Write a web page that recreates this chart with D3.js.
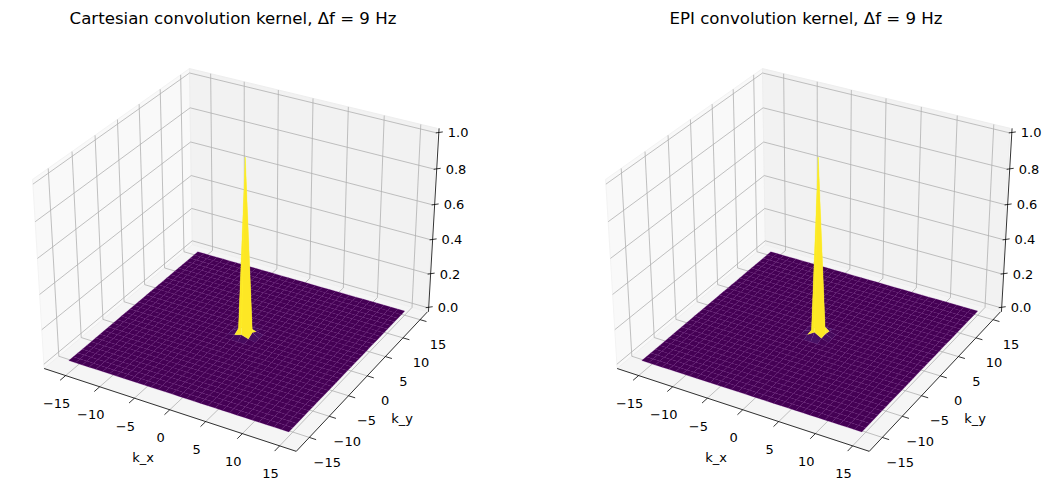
<!DOCTYPE html>
<html><head><meta charset="utf-8">
<script src="https://cdn.jsdelivr.net/npm/d3@7"></script>
<style>body{margin:0;background:#fff}svg{display:block;font-family:"DejaVu Sans",sans-serif}</style>
</head><body><svg id="c" width="1058" height="493"></svg>
<script>
// ---- data ----
const titles = ["Cartesian convolution kernel, \u0394f = 9 Hz", "EPI convolution kernel, \u0394f = 9 Hz"];
const kValues = d3.range(-16, 16);            // k grid (-16 .. 15)
const xTicks = [-15, -10, -5, 0, 5, 10, 15];
const yTicks = [-15, -10, -5, 0, 5, 10, 15];
const zTicks = [0, 0.2, 0.4, 0.6, 0.8, 1.0];
const zTickLabels = ["0.0", "0.2", "0.4", "0.6", "0.8", "1.0"];
// nonzero kernel entries near the centre: [kx, ky, value]; all others 0
const cartesianPeak = [[0,0,1.0],[1,0,0.025],[-1,0,0.025],[0,1,0.02],[0,-1,0.02],[1,1,0.008],[-1,1,0.008],[1,-1,0.008],[-1,-1,0.008]];
const epiPeak = [[0,0,1.0],[1,0,0.015],[-1,0,0.015],[0,1,0.04],[0,-1,0.035],[1,1,0.01],[-1,1,0.01],[1,-1,0.012],[-1,-1,0.01]];

function buildGrid(peak){
  const Z = kValues.map(() => kValues.map(() => 0));
  peak.forEach(([kx,ky,v]) => { Z[ky+16][kx+16] = v; });
  return Z;
}
const datasets = [buildGrid(cartesianPeak), buildGrid(epiPeak)];

// ---- 3D projection (view elev=30, azim=-60) ----
const xlim = [-18.2, 17.2], ylim = [-18.2, 17.2], zlim = [-0.025, 1.025];
const sxW = d3.scaleLinear().domain(xlim).range([0,4]);
const syW = d3.scaleLinear().domain(ylim).range([0,4]);
const szW = d3.scaleLinear().domain(zlim).range([0,3]);
const el = 30*Math.PI/180, az = -60*Math.PI/180, dist = 28;
const Rc = [2,2,1.5];
const eye = [Rc[0]+dist*Math.cos(el)*Math.cos(az), Rc[1]+dist*Math.cos(el)*Math.sin(az), Rc[2]+dist*Math.sin(el)];
const sub=(a,b)=>a.map((d,i)=>d-b[i]), dot=(a,b)=>a[0]*b[0]+a[1]*b[1]+a[2]*b[2];
const cross=(a,b)=>[a[1]*b[2]-a[2]*b[1],a[2]*b[0]-a[0]*b[2],a[0]*b[1]-a[1]*b[0]];
const norm=a=>{const l=Math.hypot(...a);return a.map(d=>d/l);};
const wv = norm(sub(eye,Rc)), uv = norm(cross([0,0,1],wv)), vv = cross(wv,uv);
function rawProj(x,y,z){
  const p=[sxW(x),syW(y),szW(z)], r=sub(p,eye);
  const zc=dot(r,wv);
  return [dot(r,uv)/(-zc), dot(r,vv)/(-zc), -zc];
}
// fit an affine screen mapping to reference box corners (left panel)
const anchors = [
  [[xlim[0],ylim[0],zlim[0]],[43,367]],
  [[xlim[1],ylim[1],zlim[0]],[430,312]],
  [[xlim[1],ylim[0],zlim[0]],[295,452]],
  [[xlim[0],ylim[1],zlim[1]],[188,68]],
  [[xlim[0],ylim[0],zlim[1]],[35,181]],
  [[xlim[1],ylim[1],zlim[1]],[436,128]]
];
function solve3(M,b){
  const A=M.map((r,i)=>[...r,b[i]]);
  for(let i=0;i<3;i++){let p=i;for(let k=i+1;k<3;k++)if(Math.abs(A[k][i])>Math.abs(A[p][i]))p=k;[A[i],A[p]]=[A[p],A[i]];
    for(let k=0;k<3;k++)if(k!==i){const f=A[k][i]/A[i][i];for(let j=i;j<4;j++)A[k][j]-=f*A[i][j];}}
  return A.map((r,i)=>r[3]/r[i]);
}
function fitAffine(F, t){
  const M=[[0,0,0],[0,0,0],[0,0,0]], b=[0,0,0];
  F.forEach((f,k)=>{for(let i=0;i<3;i++){b[i]+=f[i]*t[k];for(let j=0;j<3;j++)M[i][j]+=f[i]*f[j];}});
  return solve3(M,b);
}
const F = anchors.map(a=>{const r=rawProj(...a[0]);return [r[0],r[1],1];});
const cX = fitAffine(F, anchors.map(a=>a[1][0]));
const cY = fitAffine(F, anchors.map(a=>a[1][1]));
function P(x,y,z,off){ const r=rawProj(x,y,z); return [off+cX[0]*r[0]+cX[1]*r[1]+cX[2], cY[0]*r[0]+cY[1]*r[1]+cY[2], r[2]]; }

const svg = d3.select("#c");
const viridis = d3.interpolateViridis;
const panelOffsets = [0, 573];
const gridColor = "#b0b0b0";

panelOffsets.forEach((off, pi) => {
  const g = svg.append("g");
  const pr = (x,y,z)=>P(x,y,z,off);
  const path = pts => "M"+pts.map(p=>p[0].toFixed(2)+","+p[1].toFixed(2)).join("L")+"Z";
  const line = (a,b,col,w)=>{ g.append("line").attr("x1",a[0]).attr("y1",a[1]).attr("x2",b[0]).attr("y2",b[1]).attr("stroke",col).attr("stroke-width",w); };
  const [x0,x1]=xlim,[y0,y1]=ylim,[z0,z1]=zlim;
  // panes
  g.append("path").attr("d",path([pr(x0,y0,z0),pr(x0,y1,z0),pr(x0,y1,z1),pr(x0,y0,z1)])).attr("fill","#f9f9f9").attr("stroke","#f3f3f3");
  g.append("path").attr("d",path([pr(x0,y1,z0),pr(x1,y1,z0),pr(x1,y1,z1),pr(x0,y1,z1)])).attr("fill","#f2f2f2").attr("stroke","#eeeeee");
  g.append("path").attr("d",path([pr(x0,y0,z0),pr(x1,y0,z0),pr(x1,y1,z0),pr(x0,y1,z0)])).attr("fill","#f5f5f5").attr("stroke","#f0f0f0");
  // grid
  xTicks.forEach(t=>{ line(pr(t,y0,z0),pr(t,y1,z0),gridColor,0.8); line(pr(t,y1,z0),pr(t,y1,z1),gridColor,0.8); });
  yTicks.forEach(t=>{ line(pr(x0,t,z0),pr(x1,t,z0),gridColor,0.8); line(pr(x0,t,z0),pr(x0,t,z1),gridColor,0.8); });
  zTicks.forEach(t=>{ line(pr(x0,y0,t),pr(x0,y1,t),gridColor,0.8); line(pr(x0,y1,t),pr(x1,y1,t),gridColor,0.8); });
  // surface
  const Z = datasets[pi];
  const quads = [];
  for(let j=0;j<kValues.length-1;j++) for(let i=0;i<kValues.length-1;i++){
    const c=[[i,j],[i+1,j],[i+1,j+1],[i,j+1]];
    const pts=c.map(([a,b])=>pr(kValues[a],kValues[b],Z[b][a]));
    const avg=d3.mean(c,([a,b])=>Z[b][a]);
    quads.push({pts,avg,depth:d3.mean(pts,p=>p[2])});
  }
  const cs = d3.scaleLinear().domain(d3.extent(quads,q=>q.avg)).range([0,1]);
  quads.sort((a,b)=>b.depth-a.depth);
  g.append("g").selectAll("path").data(quads).join("path")
    .attr("d",q=>path(q.pts)).attr("fill",q=>viridis(cs(q.avg)))
    .attr("stroke",q=>d3.color(viridis(cs(q.avg))).brighter(0.9)).attr("stroke-width",0.35).attr("stroke-opacity",0.55);
  // axis lines
  line(pr(x0,y0,z0),pr(x1,y0,z0),"#000",0.8);
  line(pr(x1,y0,z0),pr(x1,y1,z0),"#000",0.8);
  const za=pr(x1,y1,z0), zb=pr(x1,y1,z1);
  const zx0=za[0]+1, zx1=zb[0]+2;
  line([zx0,za[1]],[zx1,zb[1]],"#000",0.8);
  const txt=(p,s,anchor,fs)=>g.append("text").attr("x",p[0]).attr("y",p[1]).attr("text-anchor",anchor||"middle").attr("dominant-baseline","central").attr("font-size",fs||13).attr("fill","#000").text(s);
  xTicks.forEach(t=>{ const a=pr(t,y0,z0), b=pr(t,y0-1.2,z0); line(a,b,"#000",0.8); txt([a[0]-9,a[1]+28], String(t).replace("-","\u2212")); });
  yTicks.forEach(t=>{ const a=pr(x1,t,z0), b=pr(x1+0.9,t,z0); line(a,b,"#000",0.8); txt([a[0]+18,a[1]+25], String(t).replace("-","\u2212")); });
  zTicks.forEach((t,i)=>{ const p=pr(x1,y1,t); const f=(p[1]-za[1])/(zb[1]-za[1]); const xx=zx0+f*(zx1-zx0); line([xx-3,p[1]],[xx+4,p[1]-1],"#000",0.8); txt([xx+9,p[1]], zTickLabels[i],"start"); });
  txt([off+143,457],"k_x"); txt([off+402,418],"k_y");
  txt([off+233,18],titles[pi],"middle",16.6);
});
</script></body></html>
